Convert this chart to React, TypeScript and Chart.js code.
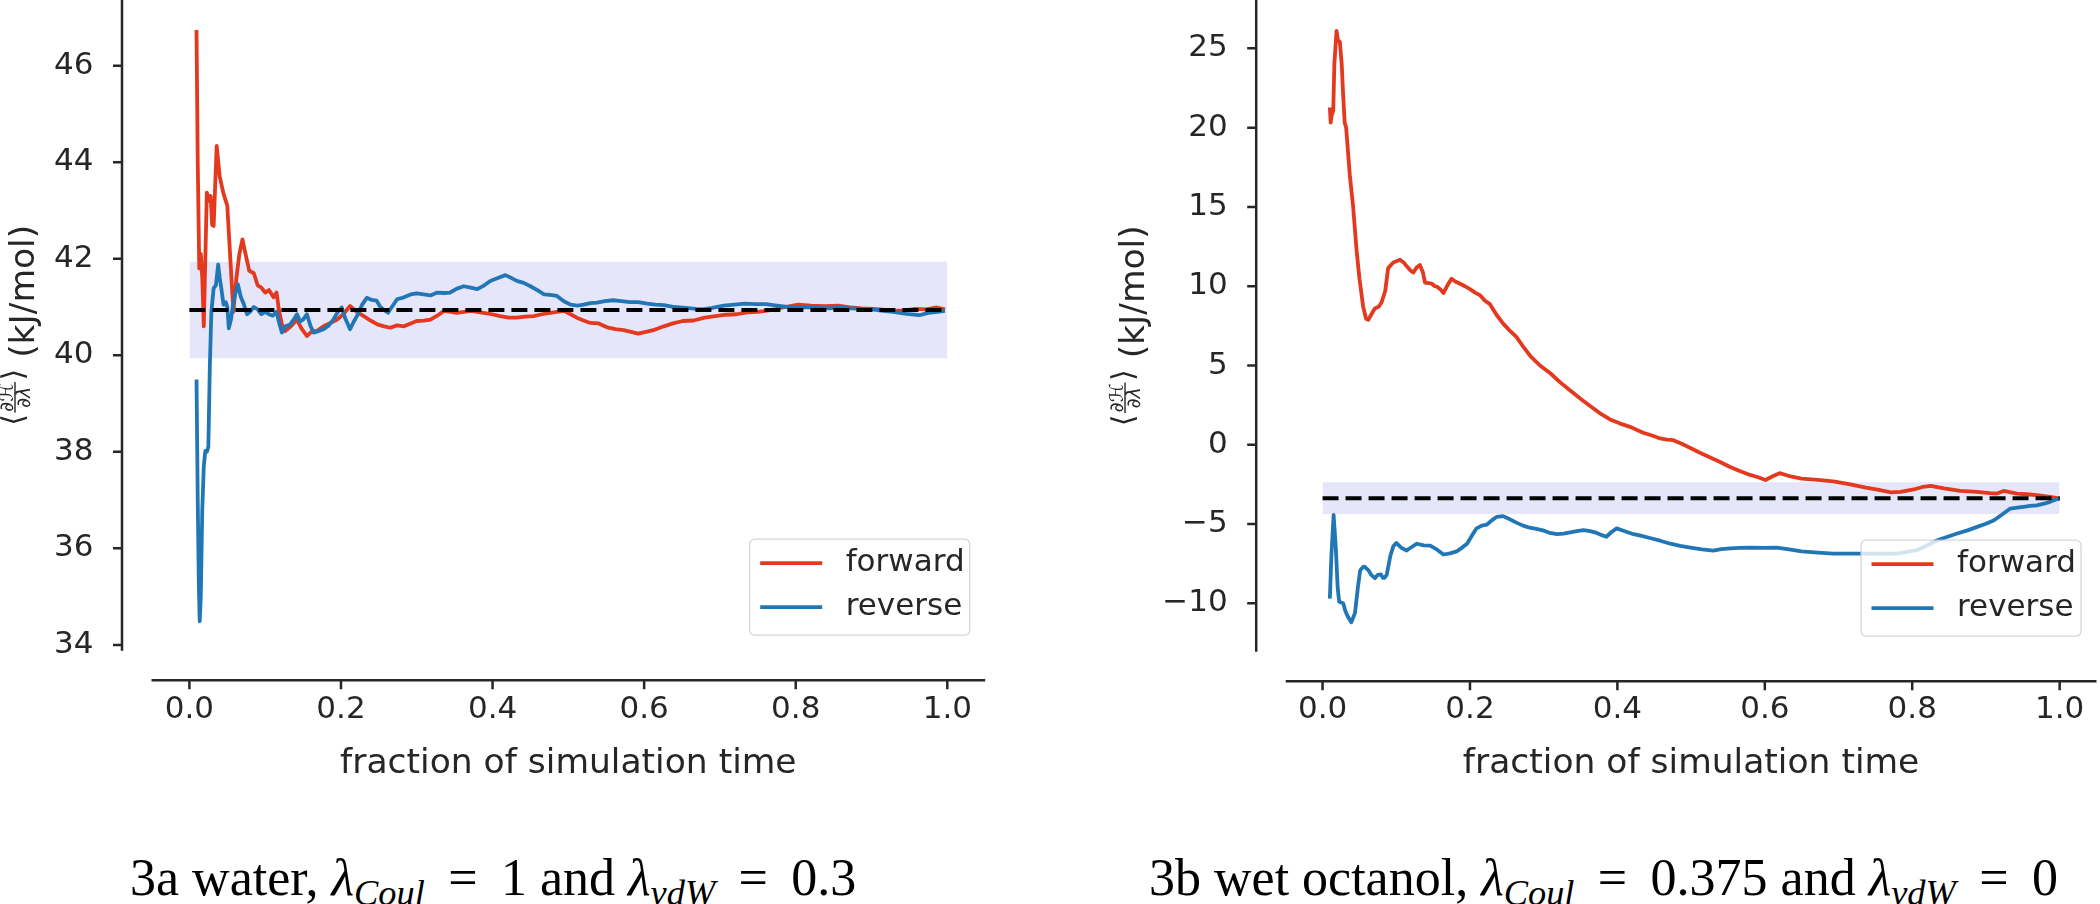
import React, { useEffect, useRef } from "react";
import { Chart, registerables } from "chart.js";

Chart.register(...registerables);

// ---------------- data ----------------
const seriesLabels = ["forward", "reverse"];
const xTicks = [0, 0.2, 0.4, 0.6, 0.8, 1.0];
const waterYTicks = [34, 36, 38, 40, 42, 44, 46];
const octanolYTicks = [-10, -5, 0, 5, 10, 15, 20, 25];
const xLimits = [-0.05, 1.05];
const waterYLimits = [33.88, 47.36];
const octanolYLimits = [-13.05, 28.05];
const waterMean = 40.94;
const octanolMean = -3.37;
const bandHalfWidth = 1.0;
const bandRange = [0, 1];

const waterFwdX = [0.0094, 0.011, 0.013, 0.015, 0.017, 0.019, 0.021, 0.023, 0.026, 0.028, 0.030, 0.032, 0.036, 0.040, 0.045, 0.050, 0.054, 0.058, 0.062, 0.066, 0.070, 0.074, 0.079, 0.085, 0.090, 0.095, 0.100, 0.105, 0.111, 0.115, 0.118, 0.122, 0.126, 0.134, 0.142, 0.148, 0.155, 0.162, 0.168, 0.177, 0.186, 0.195, 0.203, 0.212, 0.221, 0.230, 0.239, 0.248, 0.257, 0.265, 0.274, 0.283, 0.292, 0.300, 0.309, 0.318, 0.327, 0.336, 0.345, 0.353, 0.362, 0.371, 0.380, 0.388, 0.399, 0.410, 0.421, 0.432, 0.443, 0.454, 0.465, 0.476, 0.485, 0.494, 0.503, 0.511, 0.520, 0.529, 0.540, 0.551, 0.562, 0.573, 0.584, 0.592, 0.601, 0.612, 0.626, 0.638, 0.651, 0.665, 0.680, 0.694, 0.708, 0.722, 0.736, 0.750, 0.769, 0.786, 0.803, 0.820, 0.838, 0.856, 0.872, 0.887, 0.903, 0.918, 0.929, 0.944, 0.958, 0.972, 0.986, 0.997];
const waterFwdY = [46.74, 44.0, 41.8, 42.1, 41.6, 40.6, 42.0, 43.37, 43.2, 43.3, 42.7, 42.68, 44.34, 43.7, 43.35, 43.1, 42.0, 40.9, 41.6, 42.1, 42.4, 42.1, 41.75, 41.7, 41.45, 41.4, 41.3, 41.35, 41.2, 41.3, 40.95, 40.64, 40.5, 40.6, 40.74, 40.55, 40.40, 40.5, 40.5, 40.6, 40.67, 40.74, 40.85, 41.02, 40.9, 40.81, 40.72, 40.64, 40.6, 40.57, 40.62, 40.6, 40.66, 40.71, 40.72, 40.74, 40.82, 40.92, 40.9, 40.88, 40.9, 40.92, 40.9, 40.88, 40.85, 40.81, 40.78, 40.78, 40.8, 40.81, 40.85, 40.88, 40.9, 40.92, 40.85, 40.78, 40.72, 40.67, 40.66, 40.58, 40.54, 40.52, 40.48, 40.45, 40.48, 40.52, 40.6, 40.66, 40.71, 40.72, 40.78, 40.81, 40.84, 40.85, 40.89, 40.9, 40.94, 41.0, 41.05, 41.03, 41.02, 41.03, 40.99, 40.97, 40.96, 40.94, 40.92, 40.93, 40.96, 40.95, 40.99, 40.95];

const waterRevX = [0.0094, 0.011, 0.0125, 0.0136, 0.015, 0.017, 0.019, 0.021, 0.023, 0.025, 0.027, 0.029, 0.032, 0.035, 0.038, 0.040, 0.042, 0.045, 0.048, 0.050, 0.052, 0.055, 0.058, 0.061, 0.064, 0.068, 0.072, 0.076, 0.080, 0.085, 0.090, 0.095, 0.100, 0.105, 0.110, 0.115, 0.118, 0.122, 0.127, 0.133, 0.138, 0.142, 0.146, 0.150, 0.155, 0.160, 0.164, 0.170, 0.177, 0.184, 0.190, 0.196, 0.201, 0.206, 0.212, 0.217, 0.221, 0.228, 0.234, 0.240, 0.247, 0.252, 0.256, 0.262, 0.268, 0.274, 0.283, 0.292, 0.300, 0.309, 0.318, 0.327, 0.336, 0.344, 0.353, 0.362, 0.371, 0.380, 0.389, 0.397, 0.407, 0.417, 0.425, 0.432, 0.441, 0.450, 0.459, 0.468, 0.476, 0.485, 0.494, 0.503, 0.512, 0.520, 0.529, 0.538, 0.548, 0.559, 0.570, 0.581, 0.592, 0.604, 0.615, 0.626, 0.640, 0.655, 0.668, 0.677, 0.690, 0.705, 0.719, 0.733, 0.747, 0.761, 0.775, 0.789, 0.803, 0.817, 0.831, 0.845, 0.859, 0.873, 0.887, 0.901, 0.915, 0.929, 0.946, 0.963, 0.975, 0.987, 0.997];
const waterRevY = [39.5, 37.0, 35.2, 34.49, 35.0, 36.8, 37.7, 38.02, 38.0, 38.1, 39.8, 40.9, 41.39, 41.45, 41.88, 41.6, 41.4, 41.05, 41.1, 41.0, 40.56, 40.75, 41.1, 41.3, 41.47, 41.2, 41.05, 40.85, 40.9, 41.0, 40.95, 40.85, 40.9, 40.85, 40.82, 40.9, 40.7, 40.47, 40.6, 40.64, 40.75, 40.85, 40.7, 40.74, 40.85, 40.6, 40.47, 40.5, 40.54, 40.62, 40.74, 40.9, 40.99, 40.75, 40.54, 40.7, 40.81, 41.05, 41.19, 41.15, 41.13, 41.0, 40.95, 40.88, 41.02, 41.16, 41.2, 41.26, 41.28, 41.26, 41.24, 41.3, 41.29, 41.3, 41.38, 41.43, 41.4, 41.37, 41.45, 41.54, 41.6, 41.66, 41.6, 41.54, 41.5, 41.43, 41.35, 41.26, 41.25, 41.23, 41.12, 41.05, 41.03, 41.05, 41.08, 41.09, 41.12, 41.14, 41.12, 41.1, 41.1, 41.07, 41.05, 41.04, 41.0, 40.98, 40.96, 40.95, 40.98, 41.03, 41.05, 41.07, 41.06, 41.06, 41.03, 41.0, 40.99, 41.0, 40.98, 40.97, 40.99, 40.97, 40.96, 40.95, 40.92, 40.9, 40.86, 40.83, 40.88, 40.9, 40.92];

const octFwdX = [0.0099, 0.011, 0.0125, 0.0145, 0.016, 0.019, 0.021, 0.0235, 0.026, 0.028, 0.030, 0.032, 0.037, 0.0415, 0.046, 0.050, 0.055, 0.059, 0.062, 0.066, 0.071, 0.076, 0.080, 0.085, 0.089, 0.096, 0.105, 0.110, 0.114, 0.119, 0.123, 0.128, 0.132, 0.136, 0.139, 0.144, 0.148, 0.152, 0.155, 0.160, 0.164, 0.170, 0.175, 0.180, 0.186, 0.193, 0.200, 0.207, 0.214, 0.220, 0.227, 0.236, 0.245, 0.254, 0.263, 0.272, 0.282, 0.295, 0.309, 0.322, 0.336, 0.350, 0.363, 0.376, 0.390, 0.403, 0.417, 0.426, 0.435, 0.446, 0.458, 0.467, 0.476, 0.488, 0.499, 0.512, 0.526, 0.540, 0.553, 0.566, 0.580, 0.591, 0.601, 0.610, 0.620, 0.635, 0.650, 0.672, 0.693, 0.716, 0.737, 0.755, 0.771, 0.784, 0.802, 0.815, 0.825, 0.843, 0.865, 0.888, 0.905, 0.915, 0.924, 0.942, 0.955, 0.969, 0.987, 1.0];
const octFwdY = [21.28, 20.32, 20.8, 21.05, 24.0, 26.1, 25.5, 25.4, 24.0, 22.0, 20.32, 20.0, 17.0, 15.0, 12.35, 10.5, 8.73, 7.95, 7.88, 8.2, 8.6, 8.7, 8.97, 9.7, 11.14, 11.5, 11.67, 11.5, 11.27, 11.0, 10.86, 11.2, 11.34, 10.9, 10.23, 10.2, 10.17, 10.0, 9.98, 9.8, 9.57, 10.1, 10.47, 10.3, 10.17, 10.0, 9.82, 9.6, 9.42, 9.1, 8.87, 8.2, 7.64, 7.2, 6.80, 6.2, 5.59, 5.0, 4.51, 3.95, 3.42, 2.9, 2.45, 2.0, 1.6, 1.35, 1.13, 0.95, 0.76, 0.6, 0.4, 0.33, 0.29, 0.05, -0.2, -0.5, -0.8, -1.1, -1.4, -1.65, -1.9, -2.05, -2.22, -2.0, -1.79, -2.0, -2.13, -2.22, -2.31, -2.5, -2.7, -2.85, -3.0, -2.97, -2.82, -2.65, -2.59, -2.75, -2.91, -2.97, -3.05, -3.08, -2.91, -3.08, -3.12, -3.18, -3.29, -3.38];

const octRevX = [0.0099, 0.012, 0.015, 0.018, 0.0205, 0.0226, 0.028, 0.031, 0.035, 0.039, 0.044, 0.048, 0.051, 0.055, 0.057, 0.062, 0.066, 0.071, 0.075, 0.079, 0.082, 0.084, 0.087, 0.092, 0.096, 0.100, 0.107, 0.114, 0.121, 0.128, 0.137, 0.146, 0.155, 0.164, 0.173, 0.182, 0.189, 0.196, 0.203, 0.209, 0.216, 0.223, 0.230, 0.236, 0.245, 0.254, 0.263, 0.272, 0.281, 0.290, 0.299, 0.308, 0.318, 0.327, 0.336, 0.345, 0.354, 0.363, 0.372, 0.379, 0.385, 0.392, 0.399, 0.410, 0.422, 0.433, 0.444, 0.458, 0.472, 0.485, 0.499, 0.515, 0.530, 0.541, 0.553, 0.566, 0.580, 0.598, 0.616, 0.633, 0.650, 0.672, 0.693, 0.716, 0.737, 0.758, 0.779, 0.793, 0.806, 0.820, 0.834, 0.848, 0.861, 0.875, 0.888, 0.900, 0.911, 0.922, 0.933, 0.945, 0.951, 0.960, 0.969, 0.980, 0.987, 0.995, 1.0];
const octRevY = [-9.70, -7.0, -4.43, -6.5, -9.0, -9.9, -10.0, -10.5, -10.9, -11.2, -10.6, -8.97, -7.93, -7.7, -7.69, -7.9, -8.2, -8.41, -8.2, -8.17, -8.4, -8.4, -8.2, -7.0, -6.4, -6.19, -6.5, -6.67, -6.45, -6.24, -6.35, -6.36, -6.6, -6.92, -6.85, -6.72, -6.5, -6.24, -5.7, -5.27, -5.1, -5.03, -4.75, -4.55, -4.5, -4.7, -4.91, -5.1, -5.23, -5.3, -5.4, -5.55, -5.64, -5.6, -5.52, -5.45, -5.39, -5.45, -5.56, -5.7, -5.8, -5.5, -5.27, -5.45, -5.64, -5.75, -5.88, -6.05, -6.24, -6.38, -6.49, -6.6, -6.67, -6.58, -6.53, -6.5, -6.49, -6.5, -6.49, -6.6, -6.72, -6.8, -6.86, -6.86, -6.86, -6.86, -6.86, -6.75, -6.65, -6.35, -6.02, -5.8, -5.6, -5.4, -5.18, -4.98, -4.76, -4.4, -4.02, -3.95, -3.91, -3.86, -3.82, -3.7, -3.6, -3.45, -3.38];

// ---------------- styling ----------------
const INK = "#262626";
const RED = "#e3391e";
const BLUE = "#2177b5";
const LAVENDER = "#e6e6fa";
const FONT = "'DejaVu Sans', sans-serif";
const TICK_SIZE = 31;
const LABEL_SIZE = 34.5;
const LINE_W = 3.8;

const pts = (xs: number[], ys: number[]) => xs.map((x, i) => ({ x, y: ys[i] }));
const fmtY = (v: number) => (v < 0 ? "\u2212" + Math.abs(v) : String(v));

const decor = {
  id: "decor",
  afterDraw(chart: any, _args: any, opts: any) {
    const { ctx, chartArea: ca } = chart;
    const xs = chart.scales.x;
    const ys = chart.scales.y;
    ctx.save();
    // spines and tick marks (offset, despined)
    ctx.strokeStyle = INK;
    ctx.lineWidth = 2.5;
    ctx.lineCap = "butt";
    const sx = ca.left - opts.offset;
    const sy = ca.bottom + opts.offset;
    ctx.beginPath();
    ctx.moveTo(sx, ca.top);
    ctx.lineTo(sx, ca.bottom);
    ys.ticks.forEach((t: any) => {
      const p = ys.getPixelForValue(t.value);
      ctx.moveTo(sx, p);
      ctx.lineTo(sx - opts.tickLen, p);
    });
    ctx.moveTo(ca.left, sy);
    ctx.lineTo(ca.right, sy);
    xs.ticks.forEach((t: any) => {
      const p = xs.getPixelForValue(t.value);
      ctx.moveTo(p, sy);
      ctx.lineTo(p, sy + opts.tickLen);
    });
    ctx.stroke();

    // y label: <dH/dlambda> (kJ/mol)
    const cy = (ca.top + ca.bottom) / 2;
    ctx.save();
    ctx.translate(opts.yLabelBaseline, cy);
    ctx.rotate(-Math.PI / 2);
    ctx.fillStyle = INK;
    const brkFont = `30px ${FONT}`;
    const fracFont = `italic 19px ${FONT}`;
    const mainFont = `${LABEL_SIZE}px ${FONT}`;
    ctx.font = brkFont;
    const wL = ctx.measureText("\u27E8").width;
    const wR = ctx.measureText("\u27E9").width;
    ctx.font = fracFont;
    const wF = Math.max(ctx.measureText("\u2202\u210B").width, ctx.measureText("\u2202\u03BB").width) + 5;
    ctx.font = mainFont;
    const tail = " (kJ/mol)";
    const wT = ctx.measureText(tail).width;
    const total = wL + wF + wR + wT;
    let px = -total / 2;
    const bar = -18.5;
    ctx.textAlign = "left";
    ctx.font = brkFont;
    ctx.textBaseline = "middle";
    ctx.fillText("\u27E8", px, bar);
    px += wL;
    ctx.font = fracFont;
    ctx.textAlign = "center";
    ctx.textBaseline = "alphabetic";
    ctx.fillText("\u2202\u210B", px + wF / 2, bar - 2.5);
    ctx.fillText("\u2202\u03BB", px + wF / 2, bar + 15);
    ctx.fillRect(px + 1.5, bar - 0.7, wF - 3, 1.4);
    px += wF;
    ctx.textAlign = "left";
    ctx.font = brkFont;
    ctx.textBaseline = "middle";
    ctx.fillText("\u27E9", px, bar);
    px += wR;
    ctx.font = mainFont;
    ctx.textBaseline = "alphabetic";
    ctx.fillText(tail, px, 0);
    ctx.restore();

    // legend (lower right, inside the axes)
    const lw = 220;
    const lh = 96;
    const bx = ca.right - 15.5 - lw;
    const by = ca.bottom - 15.5 - lh;
    ctx.beginPath();
    ctx.roundRect(bx, by, lw, lh, 5);
    ctx.fillStyle = "rgba(255,255,255,0.8)";
    ctx.fill();
    ctx.strokeStyle = "rgba(204,204,204,0.8)";
    ctx.lineWidth = 1.3;
    ctx.stroke();
    const items = seriesLabels.map((l) => chart.data.datasets.find((d: any) => d.label === l));
    items.forEach((ds: any, i: number) => {
      const yy = by + 24 + i * 44;
      ctx.beginPath();
      ctx.strokeStyle = ds.borderColor;
      ctx.lineWidth = LINE_W;
      ctx.moveTo(bx + 10.5, yy);
      ctx.lineTo(bx + 72.5, yy);
      ctx.stroke();
      ctx.fillStyle = INK;
      ctx.font = `${TICK_SIZE}px ${FONT}`;
      ctx.textAlign = "left";
      ctx.textBaseline = "middle";
      ctx.fillText(ds.label, bx + 96, yy);
    });
    ctx.restore();
  },
};

type PanelCfg = {
  left: number;
  w: number;
  h: number;
  axisW: number;
  padRight: number;
  chartBottom: number;
  xAxisH: number;
  xTickPad: number;
  titlePadBottom: number;
  yLimits: number[];
  yTicks: number[];
  mean: number;
  fwdX: number[];
  fwdY: number[];
  revX: number[];
  revY: number[];
  yLabelBaseline: number;
};

function buildConfig(p: PanelCfg): any {
  const band = (v: number) => bandRange.map((x) => ({ x, y: v }));
  return {
    type: "line",
    data: {
      datasets: [
        { label: "mean", data: band(p.mean), borderColor: "#000000", borderWidth: 4, borderDash: [16, 7], pointRadius: 0, fill: false, order: 0 },
        { label: seriesLabels[1], data: pts(p.revX, p.revY), borderColor: BLUE, borderWidth: LINE_W, pointRadius: 0, fill: false, borderJoinStyle: "round", order: 1 },
        { label: seriesLabels[0], data: pts(p.fwdX, p.fwdY), borderColor: RED, borderWidth: LINE_W, pointRadius: 0, fill: false, borderJoinStyle: "round", order: 2 },
        { label: "bandHigh", data: band(p.mean + bandHalfWidth), borderColor: "rgba(0,0,0,0)", borderWidth: 1, backgroundColor: LAVENDER, pointRadius: 0, fill: "+1", order: 3 },
        { label: "bandLow", data: band(p.mean - bandHalfWidth), borderColor: "rgba(0,0,0,0)", borderWidth: 1, pointRadius: 0, fill: false, order: 4 },
      ],
    },
    options: {
      responsive: false,
      maintainAspectRatio: false,
      devicePixelRatio: 1,
      animation: false,
      events: [],
      layout: { padding: { left: 0, top: 0, right: p.padRight, bottom: p.h - p.chartBottom - p.xAxisH } },
      plugins: {
        legend: { display: false },
        tooltip: { enabled: false },
        decor: { offset: 29.5, tickLen: 9, yLabelBaseline: p.yLabelBaseline },
      },
      scales: {
        x: {
          type: "linear",
          min: xLimits[0],
          max: xLimits[1],
          grid: { display: false },
          border: { display: false },
          ticks: {
            font: { family: FONT, size: TICK_SIZE },
            color: INK,
            padding: p.xTickPad,
            maxRotation: 0,
            autoSkip: false,
            callback: (v: any) => Number(v).toFixed(1),
          },
          title: {
            display: true,
            text: "fraction of simulation time",
            font: { family: FONT, size: LABEL_SIZE },
            color: INK,
            padding: { top: 0, bottom: p.titlePadBottom },
          },
          afterBuildTicks: (s: any) => {
            s.ticks = xTicks.map((value) => ({ value }));
          },
          afterFit: (s: any) => {
            s.height = p.xAxisH;
            s.paddingLeft = 0;
            s.paddingRight = 0;
          },
        },
        y: {
          type: "linear",
          min: p.yLimits[0],
          max: p.yLimits[1],
          grid: { display: false },
          border: { display: false },
          ticks: {
            font: { family: FONT, size: TICK_SIZE },
            color: INK,
            padding: 50,
            autoSkip: false,
            callback: (v: any) => fmtY(Number(v)),
          },
          afterBuildTicks: (s: any) => {
            s.ticks = p.yTicks.map((value) => ({ value }));
          },
          afterFit: (s: any) => {
            s.width = p.axisW;
            s.paddingTop = 0;
            s.paddingBottom = 0;
          },
        },
      },
    },
    plugins: [decor],
  };
}

function Panel({ cfg }: { cfg: PanelCfg }) {
  const ref = useRef<HTMLCanvasElement>(null);
  useEffect(() => {
    const chart = new Chart(ref.current as HTMLCanvasElement, buildConfig(cfg));
    return () => chart.destroy();
  }, []);
  return (
    <canvas
      ref={ref}
      width={cfg.w}
      height={cfg.h}
      style={{ position: "absolute", left: cfg.left, top: 0, width: cfg.w, height: cfg.h }}
    />
  );
}

const waterCfg: PanelCfg = {
  left: 0, w: 1060, h: 800, axisW: 151.5, padRight: 1060 - 985.2, chartBottom: 650.7, xAxisH: 135,
  xTickPad: 32.7, titlePadBottom: 1, yLimits: waterYLimits, yTicks: waterYTicks, mean: waterMean,
  fwdX: waterFwdX, fwdY: waterFwdY, revX: waterRevX, revY: waterRevY, yLabelBaseline: 33.5,
};
const octanolCfg: PanelCfg = {
  left: 1060, w: 1040, h: 800, axisW: 225.7, padRight: 1040 - 1036.5, chartBottom: 651.7, xAxisH: 135,
  xTickPad: 31.7, titlePadBottom: 2, yLimits: octanolYLimits, yTicks: octanolYTicks, mean: octanolMean,
  fwdX: octFwdX, fwdY: octFwdY, revX: octRevX, revY: octRevY, yLabelBaseline: 83.5,
};

const capFont = "52px 'Liberation Serif', 'Times New Roman', serif";
const subStyle: React.CSSProperties = { fontSize: "0.7em", verticalAlign: "-0.28em", lineHeight: 0, fontStyle: "italic" };
const eqStyle: React.CSSProperties = { padding: "0 0.45em" };

function Lam({ sub }: { sub: string }) {
  return (
    <span>
      <i>λ</i>
      <span style={subStyle}>{sub}</span>
    </span>
  );
}

export default function App() {
  return (
    <div style={{ position: "absolute", left: 0, top: 0, width: 2100, height: 904, background: "#ffffff", overflow: "hidden" }}>
      <Panel cfg={waterCfg} />
      <Panel cfg={octanolCfg} />
      <div style={{ position: "absolute", left: 130, top: 852, font: capFont, lineHeight: "52px", whiteSpace: "nowrap", color: "#000" }}>
        3a water, <Lam sub="Coul" /><span style={eqStyle}>=</span>1 and <Lam sub="vdW" /><span style={eqStyle}>=</span>0.3
      </div>
      <div style={{ position: "absolute", left: 1149, top: 852, font: capFont, lineHeight: "52px", whiteSpace: "nowrap", color: "#000" }}>
        3b wet octanol, <Lam sub="Coul" /><span style={eqStyle}>=</span>0.375 and <Lam sub="vdW" /><span style={eqStyle}>=</span>0
      </div>
    </div>
  );
}
